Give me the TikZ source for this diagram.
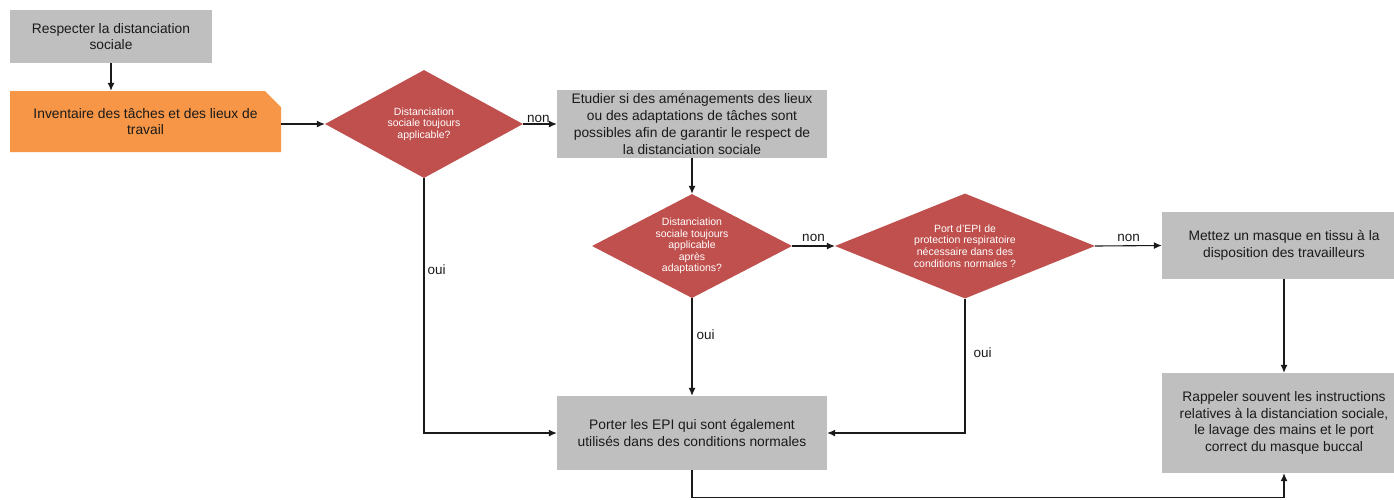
\documentclass[tikz,border=0pt]{standalone}
\usepackage{fontspec}
\setmainfont{Liberation Sans}
\usetikzlibrary{arrows.meta,shapes.geometric,shapes.misc}
\definecolor{boxgray}{HTML}{BFBFBF}
\definecolor{boxorange}{HTML}{F79646}
\definecolor{dred}{HTML}{C0504D}
\definecolor{txt}{HTML}{1A1A1A}
\begin{document}
\begin{tikzpicture}[x=1pt,y=-1pt,
  box/.style={rectangle, fill=boxgray, draw=none, align=center, text=txt,
    font=\fontsize{13.8}{16.8}\selectfont, inner sep=0pt},
  orangebox/.style={chamfered rectangle, chamfered rectangle corners=north east,
    chamfered rectangle xsep=8pt, chamfered rectangle ysep=8pt,
    fill=boxorange, draw=none, align=center, text=txt,
    font=\fontsize{13.8}{16.8}\selectfont, inner sep=0pt},
  dec/.style={diamond, fill=dred, draw=none, align=center, text=white,
    font=\fontsize{10.5}{11.6}\selectfont, inner sep=0pt, shape aspect=2},
  arr/.style={-{Latex[length=8pt,width=7pt]}, line width=1.1pt, draw=txt},
  lab/.style={font=\fontsize{13.5}{16}\selectfont, text=txt, inner sep=1pt}
]
\useasboundingbox (0,0) rectangle (1394,499);
\fill[white] (0,0) rectangle (1394,499);

\node[box, minimum width=202pt, minimum height=53pt] (resp) at (111,36.5)
  {Respecter la distanciation\\sociale};
\node[orangebox, minimum width=271pt, minimum height=61pt] (inv) at (145.5,121.5)
  {Inventaire des tâches et des lieux de\\travail};
\node[dec, minimum width=198pt, minimum height=108pt] (d1) at (424,124)
  {Distanciation\\sociale toujours\\applicable?};
\node[box, minimum width=270pt, minimum height=68pt] (etud) at (692,124)
  {Etudier si des aménagements des lieux\\ou des adaptations de tâches sont\\possibles afin de garantir le respect de\\la distanciation sociale};
\node[dec, minimum width=200pt, minimum height=104pt] (d2) at (692,246)
  {Distanciation\\sociale toujours\\applicable\\après\\adaptations?};
\node[dec, minimum width=260pt, minimum height=105pt] (d3) at (965,246)
  {Port d’EPI de\\protection respiratoire\\nécessaire dans des\\conditions normales ?};
\node[box, minimum width=244pt, minimum height=67pt] (mask) at (1284,245.5)
  {Mettez un masque en tissu à la\\disposition des travailleurs};
\node[box, minimum width=244pt, minimum height=100pt] (rapp) at (1284,423)
  {Rappeler souvent les instructions\\relatives à la distanciation sociale,\\le lavage des mains et le port\\correct du masque buccal};
\node[box, minimum width=270pt, minimum height=74pt] (port) at (692,433)
  {Porter les EPI qui sont également\\utilisés dans des conditions normales};

\draw[arr] (resp.south) -- (inv.north -| resp.south);
\draw[arr] (inv.east |- d1.west) -- (d1.west);
\draw[arr] (d1.east) -- node[lab, above, pos=0.45] {non} (etud.west);
\draw[arr] (etud.south) -- (d2.north);
\draw[arr] (d1.south) |- node[lab, right, pos=0.18, xshift=2pt] {oui} (port.west);
\draw[arr] (d2.south) -- node[lab, right, pos=0.37, xshift=3pt] {oui} (port.north);
\draw[arr] (d2.east) -- node[lab, above, yshift=3pt] {non} (d3.west);
\draw[arr] (d3.east) -- node[lab, above, yshift=3pt] {non} (mask.west);
\draw[arr] (d3.south) |- node[lab, right, pos=0.2, xshift=7pt] {oui} (port.east);
\draw[arr] (mask.south) -- (rapp.north);
\draw[arr] (port.south) -- ++(0,27) -| (rapp.south);
\end{tikzpicture}
\end{document}
